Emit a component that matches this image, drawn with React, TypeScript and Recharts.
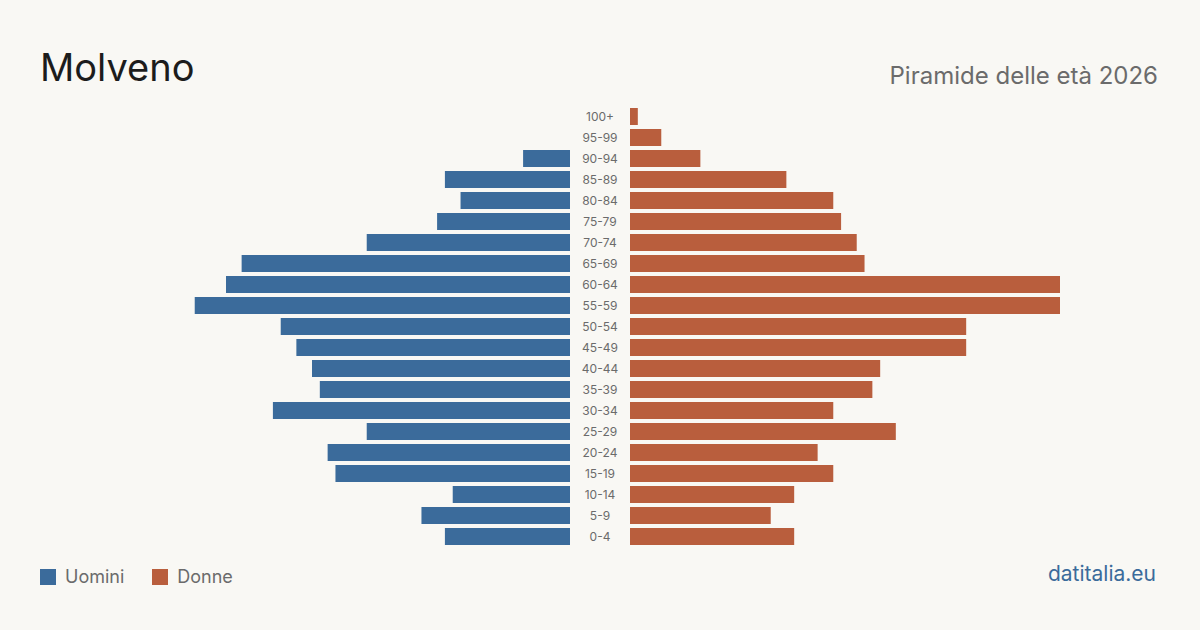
import { BarChart, Bar, XAxis, YAxis } from 'recharts';

// Fasce d'età dall'alto in basso
const ageGroups = [
  '100+', '95-99', '90-94', '85-89', '80-84', '75-79', '70-74', '65-69', '60-64', '55-59',
  '50-54', '45-49', '40-44', '35-39', '30-34', '25-29', '20-24', '15-19', '10-14', '5-9', '0-4',
];
const men = [0, 0, 6, 16, 14, 17, 26, 42, 44, 48, 37, 35, 33, 32, 38, 26, 31, 30, 15, 19, 16];
const women = [1, 4, 9, 20, 26, 27, 29, 30, 55, 55, 43, 43, 32, 31, 26, 34, 24, 26, 21, 18, 21];

const MAX = 55;
const BLUE = '#3b6b9b';
const ORANGE = '#b95e3d';
const FONT = 'Inter, "Noto Sans", sans-serif';

const data = ageGroups.map((age, i) => ({ age, men: men[i], women: women[i] }));

const noMargin = { top: 0, right: 0, bottom: 0, left: 0 };

function AgeTick({ y, payload }: any) {
  return (
    <text x={30} y={y} textAnchor="middle" dominantBaseline="central" fontSize={12} fill="#6b6b6b" fontFamily={FONT}>
      {payload.value}
    </text>
  );
}

export default function App() {
  return (
    <div
      style={{
        position: 'absolute',
        left: 0,
        top: 0,
        width: 1200,
        height: 630,
        background: '#f9f8f4',
        fontFamily: FONT,
        overflow: 'hidden',
      }}
    >
      <div style={{ position: 'absolute', left: 40, top: 43, fontSize: 38, color: '#1c1c1c', lineHeight: '48px' }}>
        Molveno
      </div>
      <div style={{ position: 'absolute', right: 42, top: 61, fontSize: 24, color: '#6b6b6b', lineHeight: '30px' }}>
        Piramide delle età 2026
      </div>

      <div style={{ position: 'absolute', left: 140, top: 106 }}>
        <BarChart width={430} height={441} data={data} layout="vertical" margin={noMargin} barCategoryGap={2}>
          <XAxis type="number" domain={[0, MAX]} reversed hide />
          <YAxis type="category" dataKey="age" hide />
          <Bar dataKey="men" fill={BLUE} isAnimationActive={false} />
        </BarChart>
      </div>

      <div style={{ position: 'absolute', left: 570, top: 106 }}>
        <BarChart width={490} height={441} data={data} layout="vertical" margin={noMargin} barCategoryGap={2}>
          <XAxis type="number" domain={[0, MAX]} hide />
          <YAxis type="category" dataKey="age" width={60} axisLine={false} tickLine={false} tick={AgeTick} interval={0} />
          <Bar dataKey="women" fill={ORANGE} isAnimationActive={false} />
        </BarChart>
      </div>

      <div style={{ position: 'absolute', left: 40, top: 566, display: 'flex', alignItems: 'center', fontSize: 18, color: '#6b6b6b' }}>
        <span style={{ width: 16, height: 16, background: BLUE, display: 'inline-block', marginRight: 9 }} />
        <span style={{ marginRight: 28 }}>Uomini</span>
        <span style={{ width: 16, height: 16, background: ORANGE, display: 'inline-block', marginRight: 9 }} />
        <span>Donne</span>
      </div>
      <div style={{ position: 'absolute', right: 44, top: 561, fontSize: 21, color: '#3b6b9b' }}>datitalia.eu</div>
    </div>
  );
}
